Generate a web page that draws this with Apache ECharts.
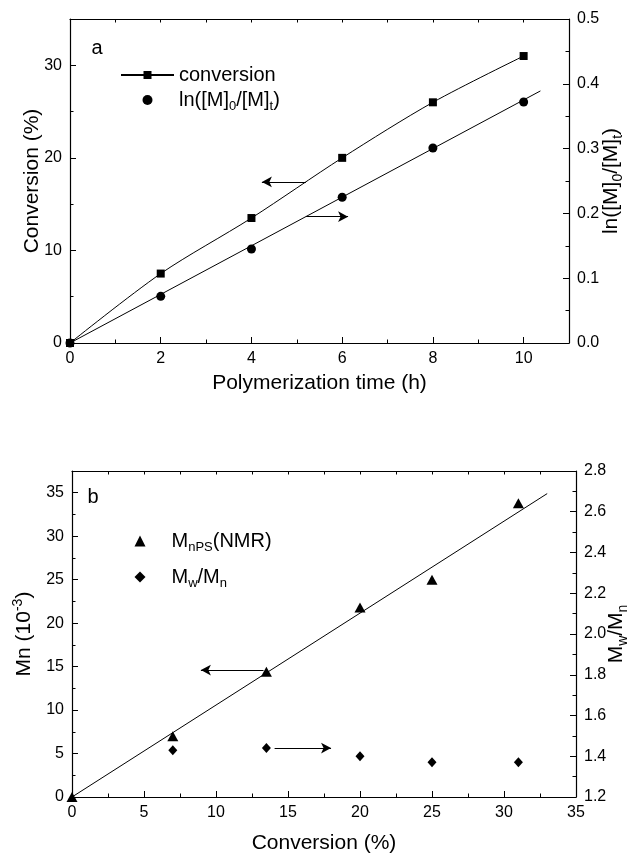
<!DOCTYPE html>
<html><head><meta charset="utf-8">
<script src="https://cdn.jsdelivr.net/npm/echarts@6/dist/echarts.min.js"></script>
<style>html,body{margin:0;padding:0;background:#fff}#c{width:640px;height:855px}</style>
</head><body><div id="c"></div>
<script>
// ---------- Panel a data ----------
const timeH = [0, 2, 4, 6, 8, 10];
const conversionPct = [0, 7.5, 13.5, 20, 26, 31];
const lnRatio = [0, 0.072, 0.145, 0.225, 0.301, 0.372];
const lnFitX = [0, 10.37];
const lnFitY = [0, 0.389];
const arrowConvX = [5.2, 4.23], arrowConvY = 17.4;
const arrowLnX = [5.2, 6.13], arrowLnY = 0.195;
// ---------- Panel b data ----------
const convB = [0, 7, 13.5, 20, 25, 31];
const mnNMR = [0, 7.0, 14.4, 21.8, 25.0, 33.8];
const convPDI = [7, 13.5, 20, 25, 31];
const pdi = [1.43, 1.44, 1.40, 1.37, 1.37];
const mnFitX = [0, 33];
const mnFitY = [0, 34.9];
const arrowMnX = [13.3, 8.95], arrowMnY = 14.6;
const arrowPdiX = [14.07, 17.99], arrowPdiY = 1.44;

const FONT = "'Liberation Sans', Arial, Helvetica, sans-serif";
const BLK = '#000';
const zip = (a, b) => a.map((v, i) => [v, b[i]]);

function mainAxis(o) {
  return Object.assign({
    type: 'value', position: o.position, nameMoveOverlap: false,
    axisLine: {show: true, onZero: false, lineStyle: {color: BLK, width: 1.2}},
    axisTick: {show: true, inside: true, length: 6, lineStyle: {color: BLK, width: 1}},
    axisLabel: {show: true, color: BLK, fontSize: 16, fontFamily: FONT, margin: 8},
    splitLine: {show: false}
  }, o);
}
function tickAxis(o) {
  return Object.assign({
    type: 'value',
    axisLine: {show: o.line === true, onZero: false, lineStyle: {color: BLK, width: 1.2}},
    axisTick: {show: true, inside: true, length: 3.5, lineStyle: {color: BLK, width: 1}},
    axisLabel: {show: false},
    splitLine: {show: false}
  }, o);
}
const arrowStyle = (data) => ({
  silent: true, symbol: ['none', 'arrow'], symbolSize: [8, 10],
  label: {show: false}, emphasis: {disabled: true},
  lineStyle: {color: BLK, width: 1, type: 'solid'},
  itemStyle: {color: BLK},
  data: data
});

const titleStyle = {color: BLK, fontSize: 21, fontFamily: FONT};
const richDefs = (big, small, lh) => ({
  n: {fontSize: big, fontFamily: FONT, color: BLK, lineHeight: lh},
  s: {fontSize: small, fontFamily: FONT, color: BLK, lineHeight: small, verticalAlign: 'bottom'},
  p: {fontSize: small, fontFamily: FONT, color: BLK, lineHeight: small, verticalAlign: 'top'},
  g: {width: 21}
});
const nameStyle = {color: BLK, fontSize: 20, fontFamily: FONT, rich: richDefs(20, 13, 26)};
const nameStyle21 = {color: BLK, fontSize: 21, fontFamily: FONT, rich: richDefs(21, 14, 27)};
const solid = {color: BLK, opacity: 1};

const chart = echarts.init(document.getElementById('c'), null, {renderer: 'canvas'});
chart.setOption({
  animation: false,
  backgroundColor: '#fff',
  grid: [
    {left: 70, top: 19, right: 71, bottom: 512},
    {left: 72, top: 471, right: 64, bottom: 57}
  ],
  xAxis: [
    mainAxis({gridIndex: 0, position: 'bottom', min: 0, max: 11, interval: 2,
      name: 'Polymerization time (h)', nameLocation: 'middle', nameGap: 30,
      nameTextStyle: titleStyle,
      axisLabel: {color: BLK, fontSize: 16, fontFamily: FONT, margin: 8,
        formatter: v => (v % 2 === 0 ? String(v) : '')}}),
    tickAxis({gridIndex: 0, position: 'bottom', min: 0, max: 11, interval: 1}),
    tickAxis({gridIndex: 0, position: 'top', min: 0, max: 11, interval: 1, line: true}),
    mainAxis({gridIndex: 1, position: 'bottom', min: 0, max: 35, interval: 5,
      minorTick: {show: true, splitNumber: 2, length: 3.5, lineStyle: {color: BLK, width: 1}},
      name: 'Conversion (%)', nameLocation: 'middle', nameGap: 36,
      nameTextStyle: titleStyle}),
    tickAxis({gridIndex: 1, position: 'top', min: 0, max: 35, interval: 2.5, line: true})
  ],
  yAxis: [
    mainAxis({gridIndex: 0, position: 'left', min: 0, max: 35, interval: 10,
      name: 'Conversion (%)', nameLocation: 'middle', nameGap: 27,
      nameTextStyle: titleStyle,
      axisLabel: {color: BLK, fontSize: 16, fontFamily: FONT, margin: 8,
        formatter: v => (v % 10 === 0 ? String(v) : '')}}),
    tickAxis({gridIndex: 0, position: 'left', min: 0, max: 35, interval: 5}),
    mainAxis({gridIndex: 0, position: 'right', min: 0, max: 0.5, interval: 0.1,
      minorTick: {show: true, splitNumber: 2, length: 3.5, lineStyle: {color: BLK, width: 1}},
      axisLabel: {color: BLK, fontSize: 16, fontFamily: FONT, margin: 8, formatter: v => v.toFixed(1)},
      name: '{n|ln([M]}{s|0}{n|/[M]}{s|t}{n|)}', nameLocation: 'middle', nameGap: 29, nameRotate: 90,
      nameTextStyle: nameStyle21}),
    mainAxis({gridIndex: 1, position: 'left', min: 0, max: 37.5, interval: 5,
      name: '{n|Mn (10}{p|-3}{n|)}', nameLocation: 'middle', nameGap: 34,
      nameTextStyle: nameStyle21,
      axisLabel: {color: BLK, fontSize: 16, fontFamily: FONT, margin: 8,
        formatter: v => (v % 5 === 0 ? String(v) : '')}}),
    tickAxis({gridIndex: 1, position: 'left', min: 0, max: 37.5, interval: 2.5}),
    mainAxis({gridIndex: 1, position: 'right', min: 1.2, max: 2.8, interval: 0.2,
      minorTick: {show: true, splitNumber: 2, length: 3.5, lineStyle: {color: BLK, width: 1}},
      axisLabel: {color: BLK, fontSize: 16, fontFamily: FONT, margin: 8, formatter: v => v.toFixed(1)},
      name: '{n|M}{s|w}{n|/M}{s|n}', nameLocation: 'middle', nameGap: 27, nameRotate: 90,
      nameTextStyle: nameStyle21})
  ],
  legend: [
    {left: 120, top: 65, padding: 0, orient: 'vertical', itemWidth: 53, itemHeight: 10, itemGap: 5,
      data: ['conversion', 'lnratio'],
      formatter: name => name === 'conversion' ? '{n|conversion}' : '{n|ln([M]}{s|0}{n|/[M]}{s|t}{n|)}',
      textStyle: nameStyle, selectedMode: false},
    {left: 134.5, top: 531, padding: 0, orient: 'vertical', itemWidth: 11, itemHeight: 11, itemGap: 13,
      data: ['mnps', 'pdi'],
      formatter: name => name === 'mnps' ? '{g|}{n|M}{s|nPS}{n|(NMR)}' : '{g|}{n|M}{s|w}{n|/M}{s|n}',
      textStyle: nameStyle, selectedMode: false}
  ],
  graphic: [
    {type: 'text', x: 97, y: 48, style: {text: 'a', font: '20px ' + FONT, fill: BLK, textAlign: 'center', textVerticalAlign: 'middle'}},
    {type: 'text', x: 93, y: 497, style: {text: 'b', font: '20px ' + FONT, fill: BLK, textAlign: 'center', textVerticalAlign: 'middle'}}
  ],
  series: [
    {name: 'conversion', type: 'line', xAxisIndex: 0, yAxisIndex: 0, smooth: 0.3,
      data: zip(timeH, conversionPct), symbol: 'rect', symbolSize: 8,
      lineStyle: {color: BLK, width: 1}, itemStyle: solid, z: 3,
      markLine: arrowStyle([[{coord: [arrowConvX[0], arrowConvY]}, {coord: [arrowConvX[1], arrowConvY]}]])},
    {name: 'lnratio', type: 'scatter', xAxisIndex: 0, yAxisIndex: 2,
      data: zip(timeH, lnRatio), symbol: 'circle', symbolSize: 9,
      itemStyle: solid, z: 4},
    {name: 'lnfit', type: 'line', xAxisIndex: 0, yAxisIndex: 2, data: zip(lnFitX, lnFitY),
      symbol: 'none', lineStyle: {color: BLK, width: 1}, z: 2,
      markLine: arrowStyle([[{coord: [arrowLnX[0], arrowLnY]}, {coord: [arrowLnX[1], arrowLnY]}]])},
    {name: 'mnps', type: 'scatter', xAxisIndex: 3, yAxisIndex: 3,
      data: zip(convB, mnNMR), symbol: 'triangle', symbolSize: [11, 10],
      itemStyle: solid, z: 4},
    {name: 'pdi', type: 'scatter', xAxisIndex: 3, yAxisIndex: 5,
      data: zip(convPDI, pdi), symbol: 'diamond', symbolSize: [9, 10],
      itemStyle: solid, z: 4},
    {name: 'mnfit', type: 'line', xAxisIndex: 3, yAxisIndex: 3, data: zip(mnFitX, mnFitY),
      symbol: 'none', lineStyle: {color: BLK, width: 1}, z: 2,
      markLine: arrowStyle([[{coord: [arrowMnX[0], arrowMnY]}, {coord: [arrowMnX[1], arrowMnY]}]])},
    {name: 'pdiarrow', type: 'line', xAxisIndex: 3, yAxisIndex: 5, data: [],
      symbol: 'none', lineStyle: {color: BLK, width: 1},
      markLine: arrowStyle([[{coord: [arrowPdiX[0], arrowPdiY]}, {coord: [arrowPdiX[1], arrowPdiY]}]])}
  ]
});
</script></body></html>
